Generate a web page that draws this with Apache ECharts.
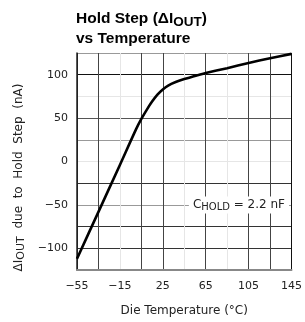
<!DOCTYPE html>
<html lang="en">
  <head>
    <meta charset="UTF-8" />
    <title>Hold Step vs Temperature</title>
    <script src="https://cdn.jsdelivr.net/npm/echarts@6/dist/echarts.min.js"></script>
    <style>
      html, body { margin: 0; padding: 0; background: #fff; }
      #chart { width: 305px; height: 322px; }
    </style>
  </head>
  <body>
    <div id="chart"></div>
    <script>
      // die temperature (°C) and hold step (nA)
      const temps = [-55, -35, -15, 0, 5, 10, 15, 20, 25, 30, 37, 45, 59, 65, 85, 105, 125, 145];
      const holdStep = [-112, -58, -4, 37, 49, 59.5, 69, 77, 83, 87.5, 91.5, 95, 100, 102, 107.5, 113.5, 119, 124];
      const xTicks = [-55, -15, 25, 65, 105, 145];
      const yTicks = [-100, -50, 0, 50, 100];
      const noteAt = [96, -50];

      const minus = (v) => String(v).replace("-", "\u2212");
      const chart = echarts.init(document.getElementById("chart"));

      const option = {
        animation: false,
        backgroundColor: "#fff",
        title: {
          left: 71,
          top: 3,
          text: "{b|Hold Step (\u0394I}{s|OUT}{b|)}\n{b|vs Temperature}",
          textStyle: {
            rich: {
              b: { fontFamily: "Liberation Sans", fontWeight: "bold", fontSize: 15.5, color: "#000", lineHeight: 19 },
              s: { fontFamily: "Liberation Sans", fontWeight: "bold", fontSize: 13.5, color: "#000", padding: [7, 0, 0, 0] },
            },
          },
        },
        grid: { left: 77, right: 12, top: 53, bottom: 49 },
        xAxis: {
          type: "value",
          min: -55,
          max: 145,
          interval: 20,
          name: "Die Temperature (\u00b0C)",
          nameLocation: "middle",
          nameGap: 35,
          nameTextStyle: { fontFamily: "DejaVu Sans", fontSize: 12, color: "#222" },
          axisLine: { show: true, onZero: false, lineStyle: { color: "#888", width: 2 } },
          axisTick: { show: false },
          axisLabel: {
            margin: 11,
            fontFamily: "DejaVu Sans",
            fontSize: 11,
            color: "#222",
            formatter: (v) => (xTicks.includes(v) ? minus(v) : ""),
          },
          splitLine: {
            show: true,
            lineStyle: {
              width: 1,
              color: ["#222", "#444", "#e6e6e6", "#444", "#444", "#e6e6e6", "#444", "#e6e6e6", "#444", "#444", "#111"],
            },
          },
        },
        yAxis: {
          type: "value",
          min: -125,
          max: 125,
          interval: 25,
          name: "{a|\u0394I}{s|OUT}{a|  due  to  Hold  Step  (nA)}",
          nameLocation: "middle",
          nameRotate: 90,
          nameGap: 47,
          nameTextStyle: {
            padding: [0, 32, 0, 0],
            rich: {
              a: { fontFamily: "DejaVu Sans", fontSize: 12, color: "#222" },
              s: { fontFamily: "DejaVu Sans", fontSize: 11, color: "#222", padding: [6, 0, 0, 0] },
            },
          },
          axisLine: { show: true, onZero: false, lineStyle: { color: "#222", width: 1.5 } },
          axisTick: { show: false },
          axisLabel: {
            margin: 9,
            fontFamily: "DejaVu Sans",
            fontSize: 11,
            color: "#222",
            formatter: (v) => (yTicks.includes(v) ? minus(v) : ""),
          },
          splitLine: {
            show: true,
            lineStyle: {
              width: 1,
              color: ["#888", "#333", "#333", "#999", "#333", "#e6e6e6", "#999", "#555", "#e6e6e6", "#111", "#999"],
            },
          },
        },
        series: [
          {
            type: "line",
            data: temps.map((t, i) => [t, holdStep[i]]),
            smooth: 0.25,
            symbol: "none",
            lineStyle: { color: "#000", width: 2.6 },
            markPoint: {
              symbol: "rect",
              symbolSize: 0.1,
              data: [{ coord: noteAt }],
              label: {
                show: true,
                position: "inside",
                backgroundColor: "#fff",
                padding: [1, 4],
                formatter: "{a|C}{s|HOLD}{a| = 2.2 nF}",
                rich: {
                  a: { fontFamily: "DejaVu Sans", fontSize: 12, color: "#222" },
                  s: { fontFamily: "DejaVu Sans", fontSize: 10, color: "#222", padding: [5, 0, 0, 0] },
                },
              },
            },
          },
        ],
      };
      chart.setOption(option);
    </script>
  </body>
</html>
